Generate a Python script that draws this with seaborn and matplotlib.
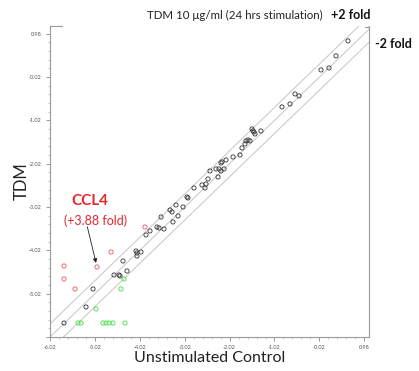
import numpy as np
import matplotlib
matplotlib.use('Agg')
import matplotlib.pyplot as plt
import seaborn as sns

# log10 expression values
black_x = [0.617, 0.35, 0.194, 0.016, -0.474, -0.563, -0.675, -0.853, -1.521, -1.499,
           -1.477, -1.454, -1.321, -1.61, -1.655, -1.566, -1.677, -1.744, -1.788, -1.944,
           -2.1, -2.189, -2.212, -2.323, -2.256, -2.145, -2.212, -2.457, -2.278, -2.501,
           -2.546, -2.635, -2.568, -2.813, -2.969, -2.947, -3.058, -3.214, -3.347, -3.303,
           -3.548, -3.169, -3.281, -3.637, -3.592, -3.481, -3.793, -3.882, -4.105, -4.082,
           -4.082, -3.993, -4.394, -4.305, -4.595, -4.483, -4.461, -5.062, -5.218, -5.708]
black_y = [0.816, 0.47, 0.192, 0.146, -0.454, -0.408, -0.639, -0.708, -1.216, -1.263,
           -1.286, -1.332, -1.263, -1.47, -1.493, -1.493, -1.563, -1.655, -1.817, -1.863,
           -1.932, -1.978, -2.002, -2.14, -2.14, -2.14, -2.186, -2.186, -2.325, -2.371,
           -2.487, -2.51, -2.579, -2.579, -2.787, -2.81, -3.018, -2.972, -3.087, -3.133,
           -3.249, -3.226, -3.364, -3.48, -3.503, -3.526, -3.572, -3.664, -4.034, -4.08,
           -4.149, -4.057, -4.265, -4.496, -4.588, -4.588, -4.611, -4.911, -5.327, -5.697]
red_x = [-3.904, -4.661, -5.708, -4.973, -5.708, -5.463]
red_y = [-3.48, -4.057, -4.38, -4.403, -4.68, -4.911]
green_x = [-4.372, -4.439, -4.996, -5.396, -5.33, -4.84, -4.773, -4.706, -4.617, -4.35]
green_y = [-4.68, -4.911, -5.373, -5.697, -5.697, -5.697, -5.697, -5.697, -5.697, -5.697]

ticks = [-6.02, -5.02, -4.02, -3.02, -2.02, -1.02, -0.02, 0.98]
fold2 = np.log10(2)
ccl4_idx = 3

sns.set_style('white')
plt.rcParams['font.family'] = ['Lato', 'DejaVu Sans']

fig = plt.figure(figsize=(4.19, 3.71), dpi=100)
ax = fig.add_axes([50 / 419, 1 - 337 / 371, 319 / 419, 311 / 371])

xmin, xmax = -6.02, 1.085
ymin, ymax = -6.02, 1.16

# identity and +/-2 fold lines
line_x = np.array([-7, 2])
for off in [-fold2, 0, fold2]:
    sns.lineplot(x=line_x, y=line_x + off, color='#cccccc', lw=0.8, ax=ax)

for xs, ys, col in [(black_x, black_y, '#333333'),
                    (red_x, red_y, '#ee5555'),
                    (green_x, green_y, '#44dd44')]:
    sns.scatterplot(x=xs, y=ys, marker='o', s=9, facecolor='none',
                    edgecolor=col, linewidth=0.6, ax=ax, zorder=3)

ax.set_xlim(xmin, xmax)
ax.set_ylim(ymin, ymax)

ax.set_xticks(ticks)
ax.set_xticklabels([f'{t:.2f}' for t in ticks])
ax.set_yticks(ticks)
ax.set_yticklabels([''] + [f'{t:.2f}' for t in ticks[1:]])
ax.set_xticks(np.arange(-6.02, 1.0, 0.2), minor=True)
ax.set_yticks(np.arange(-6.02, 1.0, 0.2), minor=True)
ax.tick_params(which='major', direction='out', length=3, width=0.6, color='#888888',
               labelsize=4, labelcolor='#555555', pad=3, bottom=True, left=True)
ax.tick_params(which='minor', direction='out', length=1.5, width=0.5, color='#aaaaaa',
               bottom=True, left=True)

for side in ['left', 'bottom', 'right']:
    ax.spines[side].set_color('#999999')
    ax.spines[side].set_linewidth(0.8)
ax.spines['top'].set_visible(False)
ax.plot([0, 0.038], [1, 1], color='#999999', lw=0.8, transform=ax.transAxes, clip_on=False)
ax.plot([0.987, 1], [0.997, 0.997], color='#999999', lw=0.8, transform=ax.transAxes, clip_on=False)
ax.set_xlabel('')
ax.set_ylabel('')

# CCL4 annotation
ax.annotate('', xy=(red_x[ccl4_idx], red_y[ccl4_idx]), xytext=(-7, 29),
            textcoords='offset points',
            arrowprops=dict(arrowstyle='-|>', color='#222222', lw=0.6,
                            mutation_scale=6, shrinkA=0, shrinkB=3))
fig.text(90 / 419, 1 - 201 / 371, 'CCL4', color='#e8262a', fontsize=11,
         fontweight='bold', ha='center', va='center')
fig.text(96 / 419, 1 - 221 / 371, '(+3.88 fold)', color='#e8262a', fontsize=9,
         ha='center', va='center')

fig.text(235 / 419, 1 - 15 / 371, 'TDM 10 \u03bcg/ml (24 hrs stimulation)', fontsize=8.3,
         ha='center', va='center', color='#222222')
fig.text(351 / 419, 1 - 15 / 371, '+2 fold', fontsize=9, fontweight='bold',
         ha='center', va='center', color='#111111')
fig.text(393 / 419, 1 - 44 / 371, '-2 fold', fontsize=9, fontweight='bold',
         ha='center', va='center', color='#111111')
fig.text(22 / 419, 1 - 181 / 371, 'TDM', fontsize=12, rotation=90,
         ha='center', va='center', color='#222222')
fig.text(210 / 419, 1 - 358 / 371, 'Unstimulated Control', fontsize=11.5,
         ha='center', va='center', color='#222222')

fig.savefig('out.png', dpi=100)
